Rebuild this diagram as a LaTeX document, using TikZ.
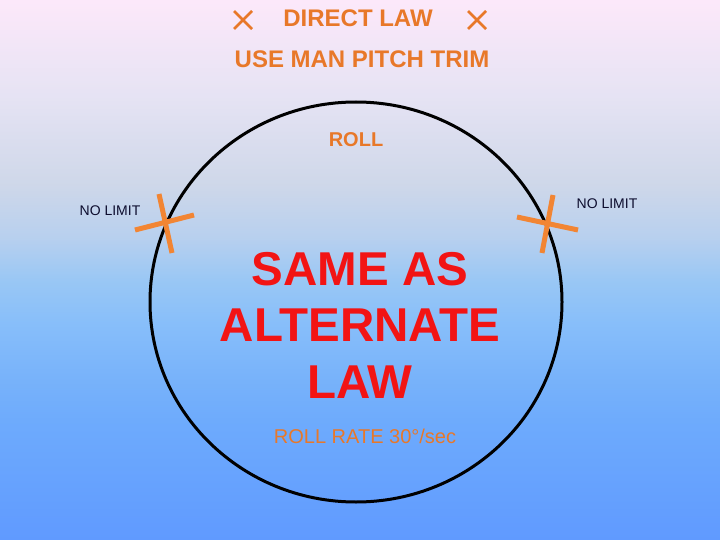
\documentclass[tikz,border=0pt]{standalone}
\usepackage{fontspec}
\setmainfont{Liberation Sans}
\definecolor{lawred}{rgb}{0.95,0.08,0.08}
\definecolor{laworange}{rgb}{0.91,0.47,0.16}
\definecolor{markorange}{rgb}{0.95,0.52,0.20}
\definecolor{limitnavy}{rgb}{0.05,0.05,0.18}
\pgfdeclareverticalshading{skyback}{100bp}{%
  rgb(0bp)=(0.376,0.604,1.0); rgb(25bp)=(0.376,0.604,1.0);
  rgb(36bp)=(0.43,0.67,0.99); rgb(40bp)=(0.47,0.70,0.98);
  rgb(45bp)=(0.53,0.745,0.98); rgb(49bp)=(0.60,0.78,0.96);
  rgb(53bp)=(0.72,0.815,0.935); rgb(58bp)=(0.81,0.845,0.915);
  rgb(66bp)=(0.90,0.89,0.955); rgb(75bp)=(0.99,0.91,0.98);
  rgb(100bp)=(0.99,0.91,0.98)}

\begin{document}
\begin{tikzpicture}[x=1pt, y=-1pt,
    title/.style={text=laworange, font=\fontsize{24}{28}\selectfont\bfseries, anchor=base, inner sep=0pt},
    nolimit/.style={text=limitnavy, font=\fontsize{14}{16}\selectfont, anchor=base, inner sep=0pt},
    xmark/.style={draw=laworange, line width=2.6pt},
    crossmark/.style={draw=markorange, line width=5pt}]
    % background
    \shade[shading=skyback] (0,0) rectangle (720,540);
    \useasboundingbox (0,0) rectangle (720,540);
    % heading
    \node[title] (direct) at (358,27) {DIRECT LAW};
    \node[title] (trim) at (362,68) {USE MAN PITCH TRIM};
    \draw[xmark] (234,11) -- (252,29) (234,29) -- (252,11);
    \draw[xmark] (468,11) -- (486,29) (468,29) -- (486,11);
    % roll circle
    \draw[line width=3pt, black] (356,302) ellipse (206 and 200);
    \node[text=laworange, font=\fontsize{20}{24}\selectfont\bfseries, anchor=base, inner sep=0pt] (roll) at (356,147) {ROLL};
    \node[nolimit] (nlleft) at (110,215) {NO LIMIT};
    \node[nolimit] (nlright) at (607,209) {NO LIMIT};
    \draw[crossmark] (135,230) -- (194,215) (159,194) -- (172,253);
    \draw[crossmark] (517,217) -- (578,230) (553,195) -- (542,253);
    \node[text=lawred, font=\fontsize{47.5}{56.5}\selectfont\bfseries, align=center, anchor=base, inner sep=0pt] (same) at (360,398) {SAME AS\\ALTERNATE\\LAW};
    \node[text=laworange, font=\fontsize{20}{24}\selectfont, anchor=base, inner sep=0pt] (rate) at (365,443) {ROLL RATE 30\textdegree/sec};
\end{tikzpicture}
\end{document}
